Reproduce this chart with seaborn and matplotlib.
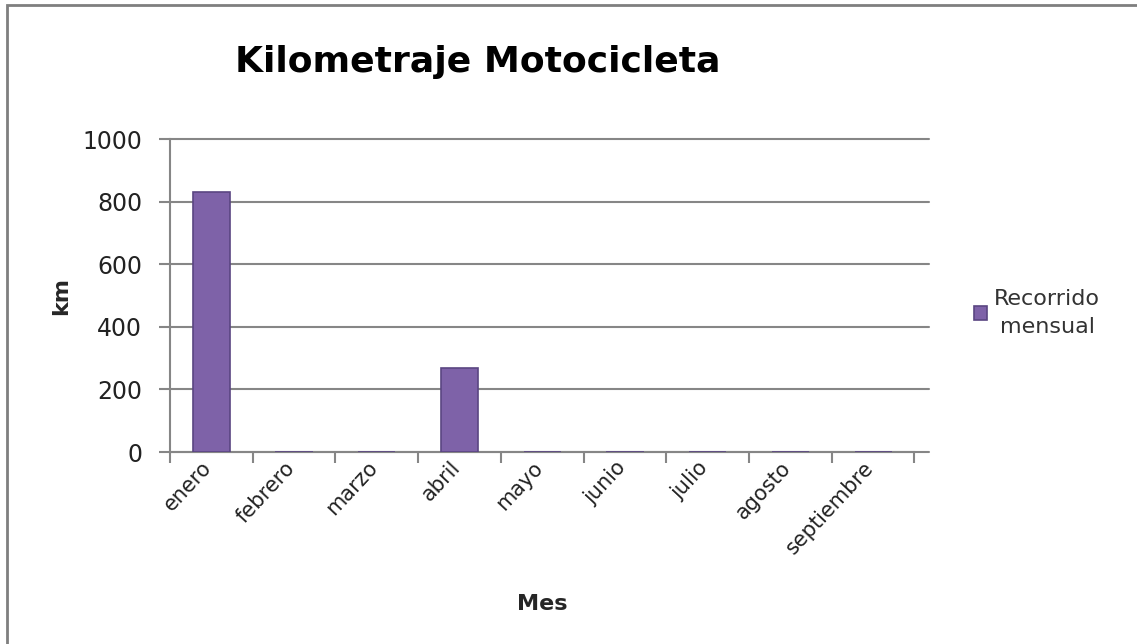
import numpy as np
import pandas as pd
import seaborn as sns
import matplotlib.pyplot as plt
import matplotlib.transforms as mtransforms
from matplotlib.patches import Rectangle
from matplotlib.ticker import FixedLocator

# data
meses = ['enero', 'febrero', 'marzo', 'abril', 'mayo', 'junio', 'julio', 'agosto', 'septiembre']
recorrido = [830, 0, 0, 270, 0, 0, 0, 0, 0]
y_ticks = [0, 200, 400, 600, 800, 1000]

df = pd.DataFrame({'Mes': meses, 'km': recorrido})

sns.set_theme(style="white")
plt.rcParams['font.family'] = ['DejaVu Sans']

grey = '#868686'
purple = '#7E62A8'

fig = plt.figure(figsize=(11.37, 6.44), dpi=100)
ax = fig.add_axes([0.1495, 0.2981, 0.8043 - 0.1495, 0.486])

p = sns.barplot(data=df, x='Mes', y='km', color=purple, width=0.45, saturation=1,
                edgecolor='#5A4682', linewidth=1.2, ax=ax, zorder=3,
                label='Recorrido\nmensual')

ax.set_ylim(0, 1000)
ax.set_xlim(-0.5, len(meses) - 0.5)
ax.set_yticks(y_ticks)
ax.set_yticklabels([str(v) for v in y_ticks], fontsize=17, color='#222222')
for v in y_ticks:
    ax.axhline(v, color=grey, lw=1.5, zorder=1, xmax=1.02, clip_on=False)

# category boundary ticks on x
ax.xaxis.set_minor_locator(FixedLocator(np.arange(-0.5, len(meses), 1)))
ax.tick_params(axis='x', which='major', length=0, pad=4)
ax.tick_params(axis='x', which='minor', length=8, width=1.5, color=grey, direction='out', bottom=True)
ax.tick_params(axis='y', length=8, width=1.5, color=grey, direction='out', left=True, pad=12)
shift = mtransforms.ScaledTranslation(-10 / 100, 0, fig.dpi_scale_trans)
for lbl in ax.get_xticklabels():
    lbl.set_rotation(47)
    lbl.set_ha('right')
    lbl.set_rotation_mode('anchor')
    lbl.set_fontsize(15)
    lbl.set_color('#222222')
    lbl.set_transform(lbl.get_transform() + shift)

for s in ['top', 'right']:
    ax.spines[s].set_visible(False)
for s in ['left', 'bottom']:
    ax.spines[s].set_color(grey)
    ax.spines[s].set_linewidth(1.5)

ax.set_xlabel('Mes', fontsize=16, fontweight='bold', labelpad=26)
ax.set_ylabel('km', fontsize=16, fontweight='bold', labelpad=8)

fig.text(478 / 1137, 1 - 62 / 644, 'Kilometraje Motocicleta', fontsize=26,
         fontweight='bold', ha='center', va='center', color='black')

leg = ax.legend(loc='center left', bbox_to_anchor=(954 / 1137, 1 - 313 / 644),
                bbox_transform=fig.transFigure, frameon=False, fontsize=16,
                handlelength=0.6, handleheight=0.6, handletextpad=0.3, labelcolor='#333333')
for t in leg.get_texts():
    t.set_multialignment('center')
    t.set_linespacing(1.5)

# outer frame of the chart
fig.patches.append(Rectangle((7 / 1137, -0.1), 1.2, 0.1 + 1 - 5 / 644, transform=fig.transFigure,
                             fill=False, edgecolor='#7f7f7f', lw=2))

fig.savefig('out.png', dpi=100)
